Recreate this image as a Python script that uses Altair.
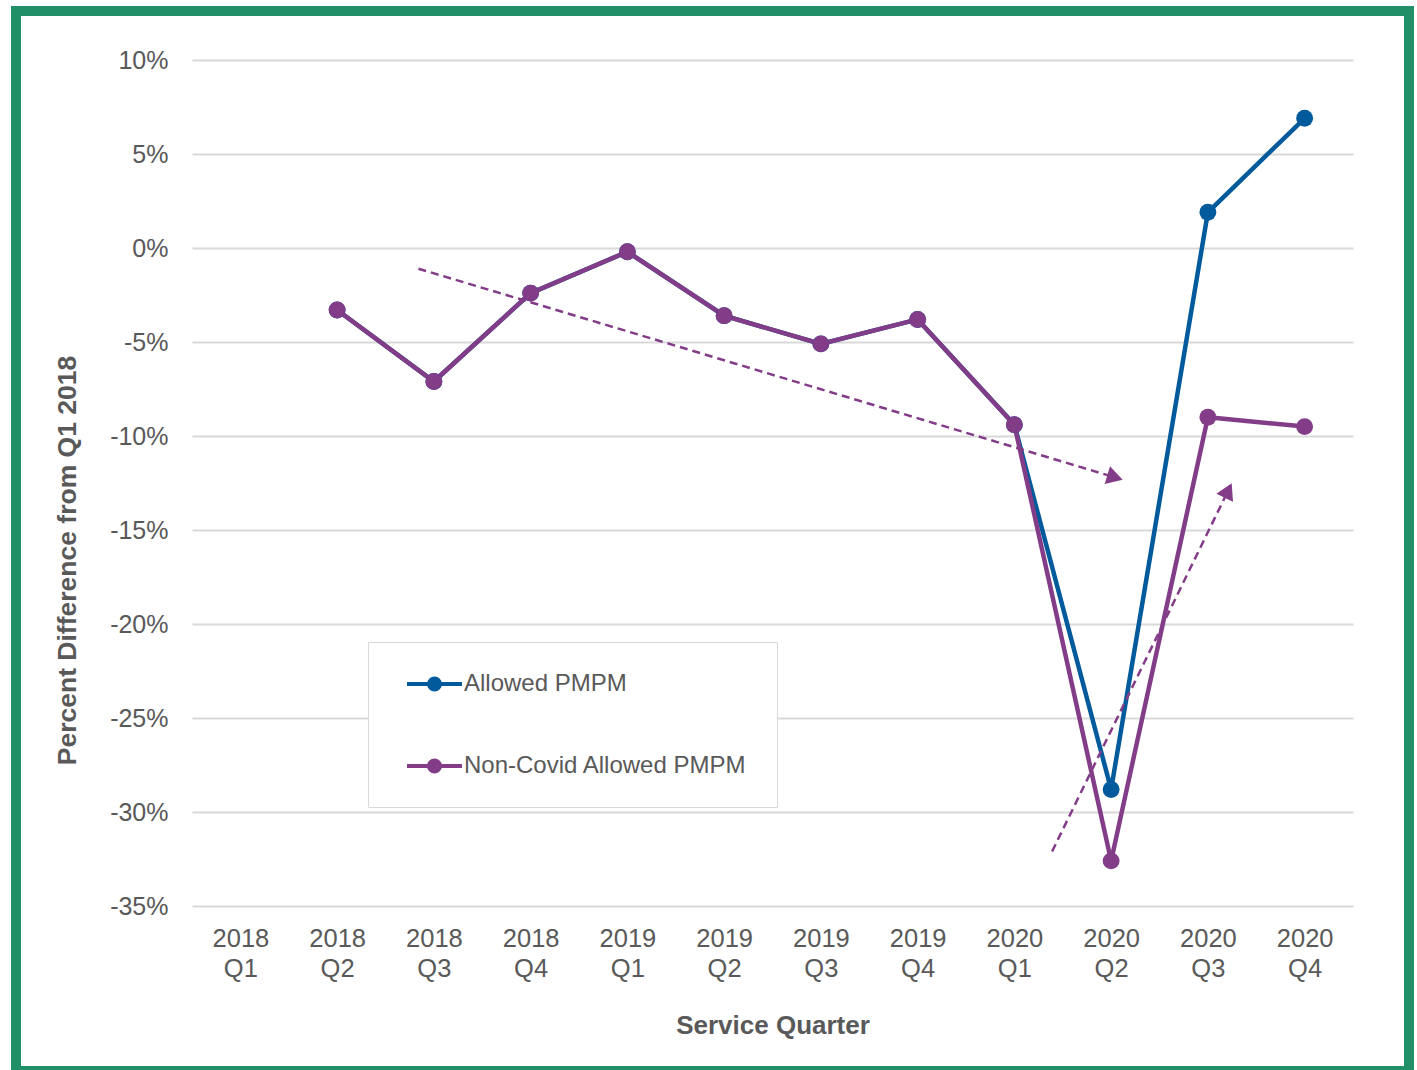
import math
import altair as alt
import pandas as pd

# ---------------- data ----------------
quarters = ["2018 Q1", "2018 Q2", "2018 Q3", "2018 Q4",
            "2019 Q1", "2019 Q2", "2019 Q3", "2019 Q4",
            "2020 Q1", "2020 Q2", "2020 Q3", "2020 Q4"]
series_names = ["Allowed PMPM", "Non-Covid Allowed PMPM"]
allowed = [None, -3.3, -7.1, -2.4, -0.2, -3.6, -5.1, -3.8, -9.4, -28.8, 1.9, 6.9]
non_covid = [None, -3.3, -7.1, -2.4, -0.2, -3.6, -5.1, -3.8, -9.4, -32.6, -9.0, -9.5]
y_ticks = [10, 5, 0, -5, -10, -15, -20, -25, -30, -35]

# dashed trend arrows (quarter index, percent)
arrow_x_start = [1.84, 8.39]
arrow_y_start = [-1.1, -32.1]
arrow_x_end = [9.04, 10.21]
arrow_y_end = [-12.2, -12.9]

colors = ["#005A9C", "#833C87"]
text_color = "#595959"
font = "Liberation Sans"

# ---------------- tables ----------------
rows = []
for name, vals in zip(series_names, [allowed, non_covid]):
    for i, v in enumerate(vals):
        if v is not None:
            rows.append({"idx": i, "quarter": quarters[i], "series": name, "value": v})
df = pd.DataFrame(rows)

W, H = 1161, 846
x_dom = [-0.5, len(quarters) - 0.5]
y_dom = [min(y_ticks), max(y_ticks)]
px_x = W / (x_dom[1] - x_dom[0])
px_y = H / (y_dom[1] - y_dom[0])

arrows = pd.DataFrame({"x0": arrow_x_start, "y0": arrow_y_start,
                       "x1": arrow_x_end, "y1": arrow_y_end})
arrows["angle"] = [
    math.degrees(math.atan2(-(b1 - b0) * px_y, (a1 - a0) * px_x)) % 360
    for a0, b0, a1, b1 in zip(arrow_x_start, arrow_y_start, arrow_x_end, arrow_y_end)
]

label_expr = "[" + ",".join(
    "['%s','%s']" % tuple(q.split(" ")) for q in quarters) + "][datum.value]"

x_scale = alt.Scale(domain=x_dom, nice=False, zero=False)
y_scale = alt.Scale(domain=y_dom, nice=False, zero=False)

x_axis = alt.Axis(values=list(range(len(quarters))), labelExpr=label_expr,
                  title="Service Quarter", grid=False, domain=False, ticks=False,
                  labelFontSize=25.5, labelColor=text_color, labelFont=font,
                  labelPadding=20, labelLineHeight=30,
                  titleFontSize=26, titleFont=font, titleFontWeight="bold",
                  titleColor=text_color, titlePadding=31)
y_axis = alt.Axis(values=y_ticks, labelExpr="datum.value + '%'",
                  title="Percent Difference from Q1 2018",
                  grid=True, gridColor="#d9d9d9", gridWidth=2,
                  domain=False, ticks=False,
                  labelFontSize=25, labelColor=text_color, labelFont=font,
                  labelPadding=24,
                  titleFontSize=26.5, titleFont=font, titleFontWeight="bold",
                  titleColor=text_color, titlePadding=28, titleY=500)

# line-with-dot legend glyph; the lone move-to points only widen its layout box
legend_symbol = ("M0,-1M11.69,0.71M-1,0L1,0"
                 "M0.2,0A0.2,0.2,0,1,1,-0.2,0A0.2,0.2,0,1,1,0.2,0"
                 "M0.1,0A0.1,0.1,0,1,1,-0.1,0A0.1,0.1,0,1,1,0.1,0"
                 "M0.02,0A0.02,0.02,0,1,1,-0.02,0A0.02,0.02,0,1,1,0.02,0")

color_scale = alt.Scale(domain=series_names, range=colors)

base = alt.Chart(df).encode(
    x=alt.X("idx:Q", scale=x_scale, axis=x_axis),
    y=alt.Y("value:Q", scale=y_scale, axis=y_axis),
)

lines = base.mark_line(strokeWidth=4.5).encode(
    color=alt.Color("series:N", scale=color_scale, legend=alt.Legend(
        orient="none", legendX=176, legendY=582, title=None,
        symbolType=legend_symbol, symbolSize=3025, symbolStrokeWidth=4,
        labelFontSize=24, labelColor=text_color, labelFont=font, labelLimit=500,
        padding=12.5, symbolOffset=24.5, labelOffset=0, rowPadding=18,
        strokeColor="#d9d9d9", fillColor="white", direction="vertical")),
    detail="series:N",
)
points = base.mark_circle(size=285, opacity=1).encode(
    color=alt.Color("series:N", scale=color_scale, legend=None),
)

rules = alt.Chart(arrows).mark_rule(
    strokeDash=[8, 5], strokeWidth=2.5, color=colors[1]
).encode(
    x=alt.X("x0:Q", scale=x_scale), x2="x1:Q",
    y=alt.Y("y0:Q", scale=y_scale), y2="y1:Q",
)
heads = alt.Chart(arrows).mark_point(
    shape="triangle-right", filled=True, size=340, opacity=1, color=colors[1]
).encode(
    x=alt.X("x1:Q", scale=x_scale),
    y=alt.Y("y1:Q", scale=y_scale),
    angle=alt.Angle("angle:Q", scale=None),
)

border = alt.Chart(alt.Data(values=[{}])).mark_rect(
    fillOpacity=0, stroke="#218F68", strokeWidth=10
).encode(
    x=alt.value(-176), x2=alt.value(1217),
    y=alt.value(-49), y2=alt.value(1011),
)

chart = alt.layer(border, lines, points, rules, heads).properties(
    width=W, height=H,
    autosize=alt.AutoSizeParams(type="none"),
    padding={"left": 192, "top": 60, "right": 1417 - 192 - W, "bottom": 1070 - 60 - H},
    background="white",
).configure_view(stroke=None)

chart.save("out.html", embed_options={"renderer": "svg", "actions": False})
